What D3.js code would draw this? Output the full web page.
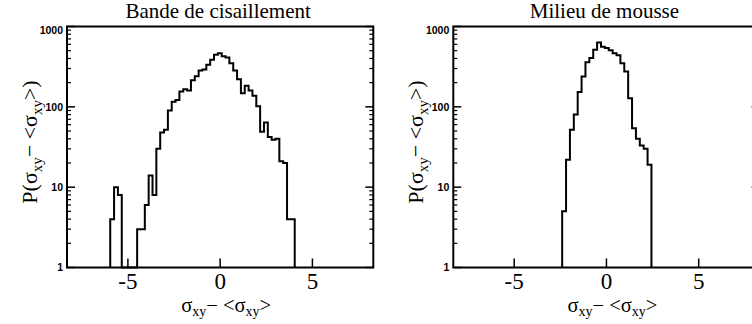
<!DOCTYPE html>
<html>
<head>
<meta charset="utf-8">
<script src="https://cdn.jsdelivr.net/npm/d3@7/dist/d3.min.js"></script>
<style>
  html, body { margin: 0; padding: 0; background: #fff; }
  svg { display: block; }
</style>
</head>
<body>
<svg id="chart" width="752" height="324"></svg>
<script>
// ---- data ----
const panelTitles = ["Bande de cisaillement", "Milieu de mousse"];

// Shear band histogram (counts per bin, log scale; 1 = empty floor)
const shearBinStart = -5.957;
const shearBinWidth = 0.2083;
const shearCounts = [4,10,8,1,1,1,1,3,3,6,14,8,30,48,52,90,116,122,155,166,160,214,240,283,292,335,385,444,466,425,410,350,283,220,148,183,160,137,102,49,64,42,39,40,21,20,4,4];

// Foam bulk histogram
const foamBinStart = -2.40;
const foamBinWidth = 0.2104;
const foamCounts = [5,22,52,80,153,239,360,404,512,633,560,540,505,464,440,350,275,128,54,40,33,30,19];

const xDomain = [-8.3, 8.3];
const xTicks = [-5, 0, 5];
const yDomain = [1, 1000];
const yMajorTicks = [1, 10, 100, 1000];
const yTickLabels = ["1", "10", "100", "1000"];

// ---- layout ----
const svg = d3.select("#chart");
const panels = [
  { left: 67, title: panelTitles[0], start: shearBinStart, width: shearBinWidth, counts: shearCounts },
  { left: 453.3, title: panelTitles[1], start: foamBinStart, width: foamBinWidth, counts: foamCounts }
];
const plotW = 306.3, plotTop = 26.5, plotBottom = 267.5;
const serif = "'Liberation Serif', 'Times New Roman', serif";
const sans = "'Liberation Sans', Arial, sans-serif";

// minor ticks for log axis
const yMinor = [];
for (let d = 1; d < 1000; d *= 10) for (let k = 2; k <= 9; k++) yMinor.push(d * k);

panels.forEach(p => {
  const x = d3.scaleLinear().domain(xDomain).range([p.left, p.left + plotW]);
  const y = d3.scaleLog().domain(yDomain).range([plotBottom, plotTop]);
  const g = svg.append("g");

  // histogram
  const pts = [[p.start, 1]];
  p.counts.forEach((c, i) => pts.push([p.start + i * p.width, Math.max(c, 1)]));
  pts.push([p.start + p.counts.length * p.width, 1]);
  const line = d3.line().x(d => x(d[0])).y(d => y(d[1])).curve(d3.curveStepAfter);
  g.append("path").attr("d", line(pts)).attr("fill", "none")
    .attr("stroke", "#000").attr("stroke-width", 2).attr("stroke-linejoin", "miter");

  // frame
  const x0 = x(xDomain[0]), x1 = x(xDomain[1]);
  g.append("rect").attr("x", x0).attr("y", plotTop).attr("width", x1 - x0).attr("height", plotBottom - plotTop)
    .attr("fill", "none").attr("stroke", "#000").attr("stroke-width", 2);

  // y ticks (both sides, inward)
  yMajorTicks.forEach(v => {
    g.append("line").attr("x1", x0).attr("x2", x0 + 8).attr("y1", y(v)).attr("y2", y(v)).attr("stroke", "#000").attr("stroke-width", 1.5);
    g.append("line").attr("x1", x1).attr("x2", x1 - 8).attr("y1", y(v)).attr("y2", y(v)).attr("stroke", "#000").attr("stroke-width", 1.5);
  });
  yMinor.forEach(v => {
    g.append("line").attr("x1", x0).attr("x2", x0 + 4).attr("y1", y(v)).attr("y2", y(v)).attr("stroke", "#000").attr("stroke-width", 1.2);
    g.append("line").attr("x1", x1).attr("x2", x1 - 4).attr("y1", y(v)).attr("y2", y(v)).attr("stroke", "#000").attr("stroke-width", 1.2);
  });
  yMajorTicks.forEach((v, i) => {
    g.append("text").attr("x", x0 - 4).attr("y", Math.max(y(v), plotTop + 4))
      .attr("dy", "0.35em").attr("text-anchor", "end")
      .attr("font-family", sans).attr("font-weight", "bold").attr("font-size", 10.5)
      .text(yTickLabels[i]);
  });

  // x ticks (bottom, inward)
  xTicks.forEach(v => {
    g.append("line").attr("x1", x(v)).attr("x2", x(v)).attr("y1", plotBottom).attr("y2", plotBottom - 9).attr("stroke", "#000").attr("stroke-width", 1.5);
    g.append("text").attr("x", x(v)).attr("y", 289).attr("text-anchor", "middle")
      .attr("font-family", serif).attr("font-size", 23).text(v < 0 ? "-" + Math.abs(v) : String(v));
  });

  // title
  g.append("text").attr("x", (x0 + x1) / 2 - 2).attr("y", 18).attr("text-anchor", "middle")
    .attr("font-family", serif).attr("font-size", 21).text(p.title);

  // x axis title
  const xt = g.append("text").attr("x", (x0 + x1) / 2 + 6).attr("y", 312).attr("text-anchor", "middle")
    .attr("font-family", serif).attr("font-size", 20.5);
  xt.append("tspan").text("σ");
  xt.append("tspan").attr("dy", 4).attr("font-size", 14).text("xy");
  xt.append("tspan").attr("dy", -4).text("− <σ");
  xt.append("tspan").attr("dy", 4).attr("font-size", 14).text("xy");
  xt.append("tspan").attr("dy", -4).text(">");

  // y axis title
  const yt = g.append("text").attr("transform", `translate(${x0 - 30},${(plotTop + plotBottom) / 2 - 5}) rotate(-90)`)
    .attr("text-anchor", "middle").attr("font-family", serif).attr("font-size", 22);
  yt.append("tspan").text("P(σ");
  yt.append("tspan").attr("dy", 5).attr("font-size", 15).text("xy");
  yt.append("tspan").attr("dy", -5).text("− <σ");
  yt.append("tspan").attr("dy", 5).attr("font-size", 15).text("xy");
  yt.append("tspan").attr("dy", -5).text(">)");
});
</script>
</body>
</html>
